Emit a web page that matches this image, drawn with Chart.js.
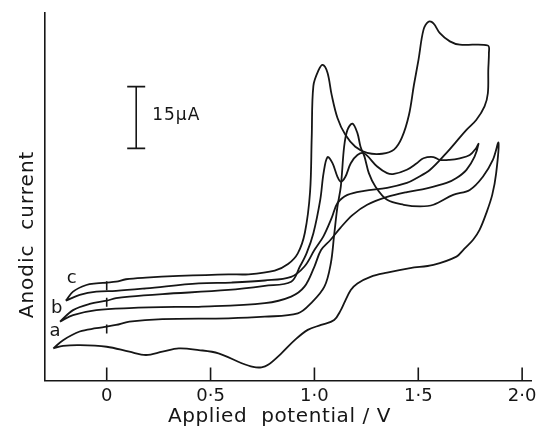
<!DOCTYPE html>
<html>
<head>
<meta charset="utf-8">
<script src="https://cdn.jsdelivr.net/npm/chart.js@4/dist/chart.umd.min.js"></script>
<style>
  body { margin: 0; background: #fff; }
  #wrap { width: 538px; height: 434px; }
</style>
</head>
<body>
<div id="wrap"><canvas id="cv" width="538" height="434"></canvas></div>
<script>
// tick labels on the potential axis
const potentialTicks = [0, 0.5, 1.0, 1.5, 2.0];
const tickText = ['0', '0·5', '1·0', '1·5', '2·0'];

// curve c: forward scan then return scan (V, µA)
const cV = [-0.197,-0.162,-0.098,-0.050,0.000,0.045,0.093,0.189,0.347,0.586,0.682,0.809,0.873,0.920,0.954,0.979,0.987,0.995,1.020,1.040,
  1.063,1.083,1.111,1.149,1.197,1.254,1.326,1.383,1.421,1.455,1.479,1.501,1.525,1.549,1.573,1.604,1.652,1.700,1.835,1.840,
  1.837,1.835,1.819,1.779,1.732,1.684,1.636,1.557,1.493,1.445,1.350,1.240,1.159,1.111,1.083,1.044,1.000,0.952,0.888,0.761,
  0.600,0.443,0.189,0.045,-0.050,-0.130,-0.197];
const cI = [19.4,21.6,23.2,23.6,23.8,24.0,24.6,25.0,25.4,25.8,25.8,26.7,28.3,30.9,35.9,45.8,59.2,71.6,75.4,76.7,
  74.8,69.4,63.8,59.7,56.8,55.3,55.1,56.1,59.0,64.5,71.8,77.9,85.2,87.2,86.8,84.4,82.4,81.6,81.4,79.5,
  75.5,69.8,66.6,63.3,60.9,58.1,55.3,51.2,49.2,48.0,46.8,46.1,45.1,43.1,39.5,35.1,31.7,27.7,25.2,24.3,
  23.8,23.6,22.4,21.8,21.6,20.8,19.4];

// curve b
const bV = [-0.225,-0.162,-0.082,0.000,0.045,0.109,0.268,0.586,0.761,0.888,0.930,0.962,0.995,1.028,1.044,1.063,1.087,1.111,1.127,1.149,
  1.175,1.207,1.239,1.302,1.350,1.383,1.445,1.493,1.525,1.573,1.604,1.650,1.700,1.748,1.779,1.790,
  1.771,1.732,1.684,1.636,1.541,1.445,1.350,1.254,1.183,1.125,1.078,1.032,1.000,0.952,0.888,0.761,0.443,0.347,0.109,-0.050,-0.162,-0.225];
const bI = [14.3,17.1,18.6,19.4,20.0,20.4,21.0,22.0,23.0,24.0,27.7,30.9,35.8,43.9,50.4,54.3,52.8,49.5,48.3,49.5,
  52.8,54.8,55.2,52.0,50.4,50.2,51.2,52.8,54.0,54.3,53.6,53.6,54.0,54.8,56.5,57.5,
  54.4,51.2,49.2,48.0,46.7,45.8,44.6,42.7,40.2,37.1,34.2,31.7,27.7,22.8,20.4,18.8,17.9,17.9,17.6,17.1,15.9,14.3];

// curve a
const aV = [-0.257,-0.210,-0.130,-0.050,0.000,0.045,0.109,0.268,0.586,0.761,0.920,0.984,1.048,1.079,1.095,1.111,1.127,1.143,1.159,1.183,
  1.207,1.222,1.241,1.262,1.294,1.350,1.430,1.509,1.573,1.668,1.748,1.811,1.859,1.886,
  1.875,1.856,1.827,1.795,1.764,1.716,1.684,1.573,1.461,1.350,1.270,1.207,1.175,1.143,1.127,1.095,1.032,0.968,0.905,0.841,
  0.777,0.745,0.705,0.650,0.538,0.443,0.347,0.268,0.189,0.109,0.000,-0.130,-0.210,-0.257];
const aI = [7.8,9.8,11.9,12.7,13.1,13.5,14.3,14.9,15.1,15.5,16.3,18.8,22.8,28.5,35.4,42.3,47.1,56.8,60.9,62.4,
  60.1,56.8,54.4,50.4,47.1,43.9,42.7,42.3,42.7,45.1,46.3,49.5,53.6,57.8,
  50.4,45.1,40.6,36.6,34.2,31.7,30.1,28.1,27.3,26.2,25.2,23.6,22.0,18.8,17.1,14.7,13.5,12.3,9.8,6.6,
  3.8,3.2,3.3,4.2,6.6,7.4,7.8,7.0,6.2,7.0,8.2,8.6,8.4,7.8];

// small start marks at 0 V on each forward scan
const markV = [0, 0, 0];
const markI = [12.5, 19.0, 23.0];

const curveNames = ['a', 'b', 'c'];
const scaleBar = 15; // µA

const ink = '#161616';
const font = 'DejaVu Sans';

function pts(xs, ys) {
  return xs.map((x, i) => ({ x: x, y: ys[i] }));
}

function curve(xs, ys) {
  return {
    data: pts(xs, ys),
    showLine: true,
    borderColor: ink,
    borderWidth: 1.8,
    pointRadius: 0,
    tension: 0.35,
    fill: false
  };
}

const decor = {
  id: 'decor',
  afterDatasetsDraw(chart) {
    const { ctx, scales: { x, y }, chartArea } = chart;
    ctx.save();
    ctx.strokeStyle = ink;
    ctx.fillStyle = ink;
    ctx.lineWidth = 1.6;

    // inward tick marks on the potential axis
    potentialTicks.forEach(v => {
      const px = x.getPixelForValue(v);
      ctx.beginPath();
      ctx.moveTo(px, chartArea.bottom);
      ctx.lineTo(px, chartArea.bottom - 13);
      ctx.stroke();
    });

    // 15 µA scale bar
    const bx = x.getPixelForValue(0.142);
    const y1 = y.getPixelForValue(71.4);
    const y2 = y.getPixelForValue(71.4 - scaleBar);
    ctx.beginPath();
    ctx.moveTo(bx, y1); ctx.lineTo(bx, y2);
    ctx.moveTo(bx - 9, y1); ctx.lineTo(bx + 9, y1);
    ctx.moveTo(bx - 9, y2); ctx.lineTo(bx + 9, y2);
    ctx.stroke();
    ctx.font = '17px "' + font + '"';
    ctx.letterSpacing = '1px';
    ctx.textAlign = 'left';
    ctx.textBaseline = 'middle';
    ctx.fillText(scaleBar + 'µA', bx + 16, (y1 + y2) / 2 - 2);

    // curve letters
    const spots = [[-0.249, 11.9], [-0.241, 17.6], [-0.169, 24.8]];
    ctx.font = '18px "' + font + '"';
    ctx.letterSpacing = '0px';
    ctx.textAlign = 'center';
    curveNames.forEach((n, i) => {
      ctx.fillText(n, x.getPixelForValue(spots[i][0]), y.getPixelForValue(spots[i][1]));
    });

    // axis titles
    ctx.font = '20px "' + font + '"';
    ctx.letterSpacing = '0.6px';
    ctx.textBaseline = 'middle';
    ctx.fillText('Applied  potential / V', x.getPixelForValue(0.832), 417);
    ctx.save();
    ctx.translate(28, y.getPixelForValue(35.5));
    ctx.rotate(-Math.PI / 2);
    ctx.letterSpacing = '1px';
    ctx.fillText('Anodic  current', 0, 0);
    ctx.restore();

    ctx.restore();
  }
};

new Chart(document.getElementById('cv'), {
  type: 'scatter',
  data: {
    datasets: [
      curve(aV, aI),
      curve(bV, bI),
      curve(cV, cI),
      {
        data: pts(markV, markI),
        showLine: false,
        pointStyle: 'line',
        rotation: 90,
        pointRadius: 4.5,
        borderColor: ink,
        borderWidth: 1.6
      }
    ]
  },
  options: {
    responsive: false,
    animation: false,
    layout: { padding: { top: 13, right: 2, left: 0, bottom: 0 } },
    plugins: { legend: { display: false }, tooltip: { enabled: false } },
    scales: {
      x: {
        type: 'linear',
        min: -0.299,
        max: 2.047,
        afterBuildTicks: s => { s.ticks = potentialTicks.map(v => ({ value: v })); },
        afterFit: s => { s.height = 53.5; s.paddingLeft = 0; s.paddingRight = 0; },
        ticks: {
          callback: v => tickText[potentialTicks.indexOf(v)],
          font: { family: font, size: 18 },
          color: ink,
          padding: 5,
          maxRotation: 0
        },
        grid: { display: false, drawTicks: false, tickLength: 0 },
        border: { color: ink, width: 1.6 }
      },
      y: {
        min: 0,
        max: 89.3,
        afterFit: s => { s.width = 44.6; s.paddingTop = 0; s.paddingBottom = 0; },
        ticks: { display: false },
        grid: { display: false, drawTicks: false, tickLength: 0 },
        border: { color: ink, width: 1.6 }
      }
    }
  },
  plugins: [decor]
});
</script>
</body>
</html>
